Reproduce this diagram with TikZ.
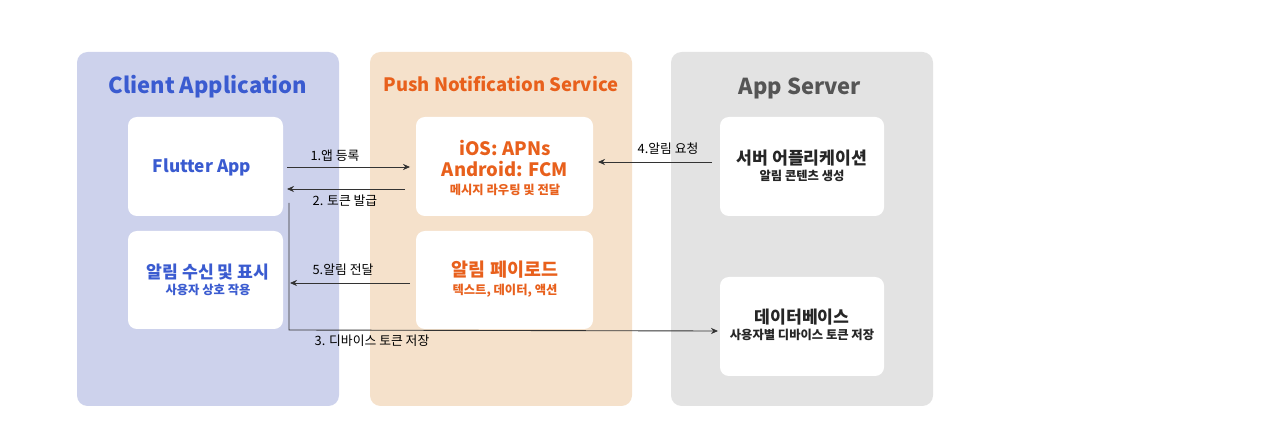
\documentclass[tikz,border=0pt]{standalone}
\usepackage{fontspec}
\setmainfont{Noto Sans CJK KR}
\usetikzlibrary{arrows.meta}
\definecolor{cbg}{HTML}{CDD2EC}
\definecolor{pbg}{HTML}{F5E1CB}
\definecolor{sbg}{HTML}{E3E3E3}
\definecolor{cblue}{HTML}{3A5BD0}
\definecolor{corange}{HTML}{E8601C}
\definecolor{cgray}{HTML}{555555}
\tikzset{
 panel/.style={rounded corners=6pt,draw=none},
 card/.style={fill=white,rounded corners=5pt,draw=none},
 title/.style={font=\fontsize{12.5}{14}\selectfont\bfseries},
 lbl/.style={font=\fontsize{7.3}{9}\selectfont,text=black},
 arr/.style={-{Stealth[length=4pt,width=3.5pt]},line width=0.5pt,draw=black!80},
}
\begin{document}
\begin{tikzpicture}[x=0.02cm,y=-0.02cm]
\useasboundingbox (0,0) rectangle (1263,421);
\fill[panel,cbg] (77,52) rectangle (339,406);
\fill[panel,pbg] (370,52) rectangle (632,406);
\fill[panel,sbg] (671,52) rectangle (933,406);
\node[title,text=cblue] (t1) at (208,87) {Client Application};
\node[title,text=corange,font=\fontsize{10.5}{12}\selectfont\bfseries] (t2) at (501,84) {Push Notification Service};
\node[title,text=cgray] (t3) at (800,88) {App Server};
\fill[card] (128,117) rectangle (283,216);
\fill[card] (128,231) rectangle (283,329);
\fill[card] (416,117) rectangle (593,216);
\fill[card] (416,231) rectangle (593,329);
\fill[card] (720,117) rectangle (884,216);
\fill[card] (720,277) rectangle (884,376);
\node[font=\fontsize{9.8}{12}\selectfont\bfseries,text=cblue] (flutter) at (202,167) {Flutter App};
\node[align=center,text=cblue,font=\bfseries] (recv) at (208,280) {{\fontsize{9.8}{12}\selectfont 알림 수신 및 표시}\\[-3pt]{\fontsize{7}{9}\selectfont 사용자 상호 작용}};
\node[align=center,text=corange,font=\bfseries] (apns) at (505,168) {{\fontsize{10.5}{12}\selectfont iOS: APNs}\\[0pt]{\fontsize{10.5}{12}\selectfont Android: FCM}\\[-2pt]{\fontsize{7}{9}\selectfont 메시지 라우팅 및 전달}};
\node[align=center,text=corange,font=\bfseries] (payload) at (505,279) {{\fontsize{10.5}{12}\selectfont 알림 페이로드}\\[-2pt]{\fontsize{7}{9}\selectfont 텍스트, 데이터, 액션}};
\node[align=center,text=black!85,font=\bfseries] (server) at (802,166) {{\fontsize{9.8}{12}\selectfont 서버 어플리케이션}\\[-3pt]{\fontsize{7}{9}\selectfont 알림 콘텐츠 생성}};
\node[align=center,text=black!85,font=\bfseries] (db) at (802,325) {{\fontsize{9.8}{12}\selectfont 데이터베이스}\\[-3pt]{\fontsize{7}{9}\selectfont 사용자별 디바이스 토큰 저장}};
\coordinate (a1s) at (287,167); \coordinate (a1e) at (410,167);
\coordinate (a2s) at (405,189); \coordinate (a2e) at (287,189);
\coordinate (a4s) at (712,162); \coordinate (a4e) at (598,162);
\coordinate (a5s) at (410,283); \coordinate (a5e) at (290,283);
\coordinate (a3s) at (289,203); \coordinate (a3m) at (289,330); \coordinate (a3e) at (718,331);
\draw[arr] (a1s) -- (a1e);
\draw[arr] (a2s) -- (a2e);
\draw[arr] (a4s) -- (a4e);
\draw[arr] (a5s) -- (a5e);
\draw[arr] (a3s) -- (a3m) -- (a3e);
\node[lbl] (l1) at (335,156) {1.앱 등록};
\node[lbl] (l2) at (345,201) {2. 토큰 발급};
\node[lbl] (l4) at (668,149) {4.알림 요청};
\node[lbl] (l5) at (343,270) {5.알림 전달};
\node[lbl] (l3) at (372,341) {3. 디바이스 토큰 저장};
\end{tikzpicture}
\end{document}
